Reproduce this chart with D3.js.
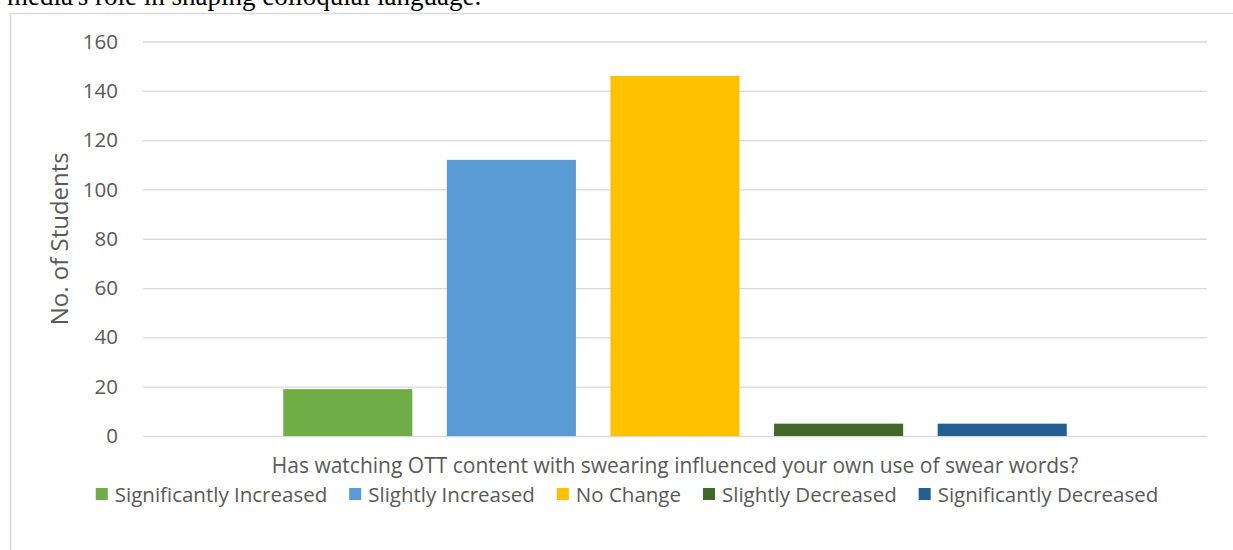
<!DOCTYPE html>
<html>
<head>
<meta charset="utf-8">
<script src="https://cdn.jsdelivr.net/npm/d3@7"></script>
<style>
  body { margin: 0; background: #fff; }
  svg { display: block; }
</style>
</head>
<body>
<svg id="chart" width="1233" height="550"></svg>
<script>
// Survey question (single category) and the response breakdown
const question = "Has watching OTT content with swearing influenced your own use of swear words?";
const responses = ["Significantly Increased", "Slightly Increased", "No Change", "Slightly Decreased", "Significantly Decreased"];
const students = [19, 112, 146, 5, 5];
const responseColors = ["#70AD47", "#5B9BD5", "#FFC000", "#43682B", "#255E91"];
const yTicks = [0, 20, 40, 60, 80, 100, 120, 140, 160];
const yTitle = "No. of Students";
const precedingText = "media's role in shaping colloquial language.";

const svg = d3.select("#chart");
const font = "'Open Sans', sans-serif";
const textColor = "#595959";
const gridColor = "#d9d9d9";

// Tail end of the paragraph above the figure
svg.append("text")
  .attr("x", 7).attr("y", 5)
  .attr("font-family", "'Liberation Serif', serif")
  .attr("font-size", 27)
  .attr("fill", "#000")
  .text(precedingText);

// Chart frame
svg.append("rect")
  .attr("x", 10.5).attr("y", 13.5)
  .attr("width", 1240).attr("height", 560)
  .attr("fill", "#fff")
  .attr("stroke", gridColor)
  .attr("stroke-width", 1.5);

const plot = { left: 143, right: 1207, top: 41.5, bottom: 436 };

const y = d3.scaleLinear().domain([0, 160]).range([plot.bottom, plot.top]);

const x0 = d3.scaleBand()
  .domain([question])
  .range([plot.left, plot.right])
  .paddingInner(0)
  .paddingOuter(0.179);

const x1 = d3.scaleBand()
  .domain(responses)
  .range([0, x0.bandwidth()])
  .paddingInner(0.211)
  .paddingOuter(0);

// Gridlines + y tick labels
const yAxis = svg.append("g")
  .attr("transform", `translate(${plot.left},0)`)
  .call(d3.axisLeft(y)
    .tickValues(yTicks)
    .tickSizeInner(-(plot.right - plot.left))
    .tickSizeOuter(0)
    .tickPadding(25));
yAxis.select(".domain").remove();
yAxis.selectAll(".tick line")
  .attr("stroke", gridColor)
  .attr("stroke-width", 1.3);
yAxis.selectAll(".tick text")
  .attr("fill", textColor)
  .attr("font-family", font)
  .attr("font-size", 20.5);

// Bars
const rows = responses.map((r, i) => ({ response: r, value: students[i], color: responseColors[i] }));
svg.append("g")
  .attr("transform", `translate(${x0(question)},0)`)
  .selectAll("rect")
  .data(rows)
  .join("rect")
  .attr("x", d => x1(d.response))
  .attr("width", x1.bandwidth())
  .attr("y", d => y(d.value))
  .attr("height", d => y(0) - y(d.value))
  .attr("fill", d => d.color);

// Y axis title
svg.append("text")
  .attr("transform", `translate(68,${(plot.top + plot.bottom) / 2}) rotate(-90)`)
  .attr("text-anchor", "middle")
  .attr("fill", textColor)
  .attr("font-family", font)
  .attr("font-size", 24)
  .text(yTitle);

// Category label under the axis
svg.append("text")
  .attr("x", x0(question) + x0.bandwidth() / 2)
  .attr("y", 473)
  .attr("text-anchor", "middle")
  .attr("fill", textColor)
  .attr("font-family", font)
  .attr("font-size", 21)
  .text(question);

// Legend, centred in the chart frame
const legend = svg.append("g");
const items = legend.selectAll("g")
  .data(rows)
  .join("g");
items.append("rect")
  .attr("width", 12).attr("height", 12)
  .attr("y", 488)
  .attr("fill", d => d.color);
items.append("text")
  .attr("x", 19)
  .attr("y", 501.5)
  .attr("fill", textColor)
  .attr("font-family", font)
  .attr("font-size", 20.5)
  .text(d => d.response);

const itemGap = 22;
let cursor = 0;
items.each(function () {
  const g = d3.select(this);
  const w = 19 + g.select("text").node().getComputedTextLength();
  g.attr("transform", `translate(${cursor},0)`);
  cursor += w + itemGap;
});
const legendWidth = cursor - itemGap;
legend.attr("transform", `translate(${627 - legendWidth / 2},0)`);
</script>
</body>
</html>
